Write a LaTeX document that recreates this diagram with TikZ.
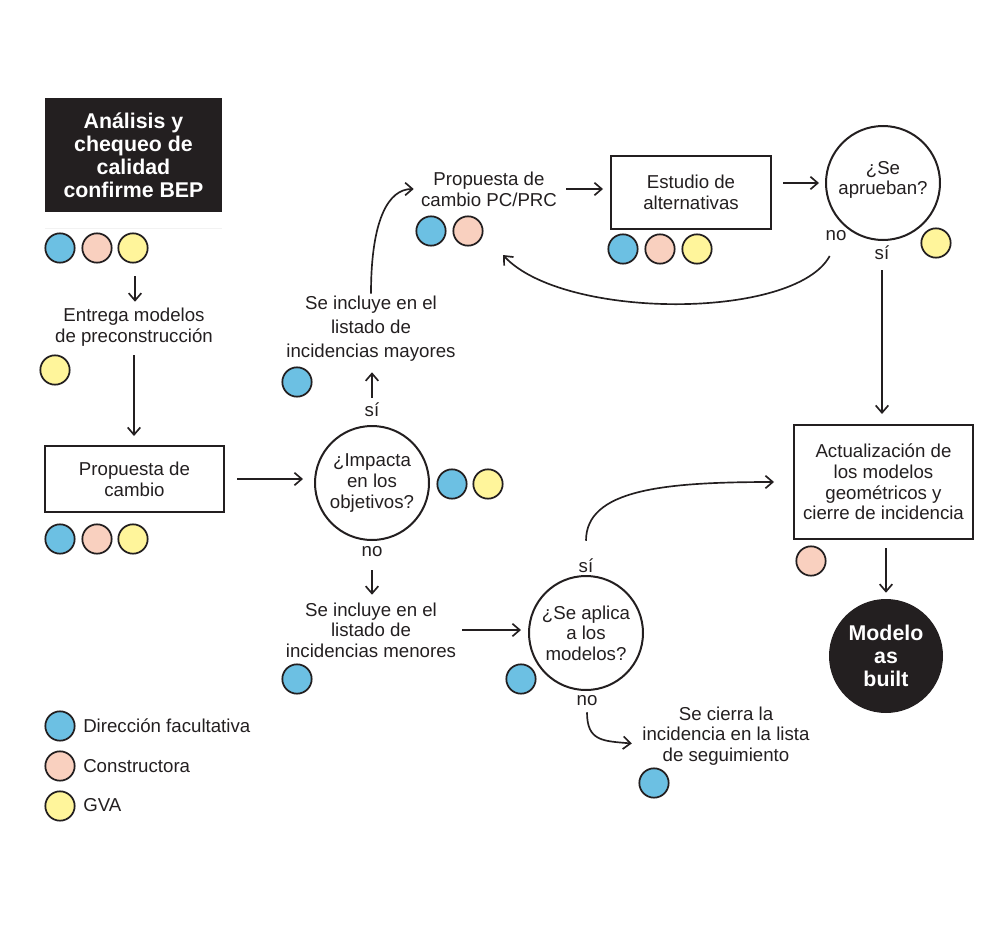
\documentclass[tikz,border=0pt]{standalone}
\usepackage{fontspec}
\setmainfont{Liberation Sans}
\usetikzlibrary{arrows.meta}
\definecolor{ink}{HTML}{231F20}
\definecolor{cblue}{HTML}{6CC0E3}
\definecolor{cpink}{HTML}{F9D0BF}
\definecolor{cyel}{HTML}{FFF59B}
\begin{document}
\begin{tikzpicture}[x=0.75pt,y=-0.75pt,
 txt/.style={align=center,inner sep=0pt,font=\fontsize{14}{15.5}\selectfont,text=ink},
 boxn/.style={txt,draw=ink,line width=1.5pt},
 decn/.style={txt,draw=ink,line width=1.5pt,circle,minimum size=85.5pt},
 dot/.style={circle,draw=ink,line width=1.3pt,minimum size=22pt,inner sep=0pt},
 arr/.style={draw=ink,line width=1.25pt,-{Straight Barb[length=5.5pt,width=9.5pt]}},
 darkbox/.style={fill=ink,text=white,font=\fontsize{16}{17.25}\selectfont\bfseries,align=center,inner sep=0pt},
 lbl/.style={txt,minimum height=12pt}
]
\useasboundingbox (0,0) rectangle (1000,935);

% top-left
\node[darkbox,minimum width=132.75pt,minimum height=85.5pt] (bep) at (133.5,155) {Análisis y\\chequeo de\\calidad\\confirme BEP};
\draw[gray!10,line width=0.75pt] (45,228) -- (222,228);
\node[dot,fill=cblue] (b1) at (60,248) {};
\node[dot,fill=cpink] (p1) at (97,248) {};
\node[dot,fill=cyel] (y1) at (133,248) {};
\coordinate (a1) at (135,276);
\node[txt,minimum height=33pt] (entrega) at (134,327) {Entrega modelos\\de preconstrucción};
\draw[arr,shorten >=2.25pt] (a1) -- (a1 |- entrega.north);
\node[dot,fill=cyel] (y2) at (55,370) {};

\node[boxn,minimum width=134.25pt,minimum height=49.5pt] (prop) at (134.5,479) {Propuesta de\\cambio};
\draw[arr,shorten <=4.5pt,shorten >=6.75pt] (entrega.south) -- (entrega.south |- prop.north);
\node[dot,fill=cblue] (b2) at (60,539) {};
\node[dot,fill=cpink] (p2) at (97,539) {};
\node[dot,fill=cyel] (y3) at (133,539) {};

% impacta
\node[decn] (imp) at (372,483) {¿Impacta\\en los\\objetivos?};
\draw[arr,shorten <=9pt,shorten >=8.25pt] (prop.east) -- (prop.east -| imp.west);
\node[dot,fill=cblue] (b3) at (452,484) {};
\node[dot,fill=cyel] (y4) at (488,484) {};

\node[lbl] (si1) at (372,410) {sí};
\node[txt,minimum height=52.5pt,font=\fontsize{14}{18}\selectfont] (mayores) at (371,329) {Se incluye en el\\listado de\\incidencias mayores};
\draw[arr,shorten <=3pt,shorten >=6pt] (si1.north) -- (si1.north |- mayores.south);
\node[dot,fill=cblue] (b4) at (297,382) {};

% propuesta PC/PRC
\node[txt,minimum width=112.5pt,minimum height=33pt] (pc) at (489,189) {Propuesta de\\cambio PC/PRC};
\draw[arr] (mayores.north) .. controls +(0,-75) and +(-25,0) .. (pc.west);
\node[dot,fill=cblue] (b5) at (431,231) {};
\node[dot,fill=cpink] (p3) at (468,231) {};

\node[boxn,minimum width=120pt,minimum height=54.75pt] (est) at (691,192.5) {Estudio de\\alternativas};
\draw[arr,shorten <=1.5pt,shorten >=5.25pt] (pc.east) -- (pc.east -| est.west);
\node[dot,fill=cblue] (b6) at (623,249) {};
\node[dot,fill=cpink] (p4) at (660,249) {};
\node[dot,fill=cyel] (y5) at (697,249) {};

\node[decn] (apr) at (883,183) {¿Se\\aprueban?\\[-8pt]\mbox{}};
\draw[arr,shorten <=8.25pt,shorten >=4.5pt] (apr.west -| est.east) -- (apr.west);
\node[lbl] (no2) at (836,236) {no};
\node[lbl] (si2) at (882,253) {sí};
\node[dot,fill=cyel] (y6) at (936,243) {};
\coordinate (pcret) at (503,255);
\draw[arr,shorten <=10pt] (no2.south) .. controls +(-41,76) and +(60,65) .. (pcret);

% actualizacion
\node[boxn,minimum width=134.25pt,minimum height=85.5pt] (act) at (883.5,482) {Actualización de\\los modelos\\geométricos y\\cierre de incidencia};
\draw[arr,shorten <=6.75pt,shorten >=7.5pt] (si2.south) -- (si2.south |- act.north);
\node[dot,fill=cpink] (p5) at (811,561) {};
\node[circle,fill=ink,minimum size=85.5pt,inner sep=0pt,text=white,align=center,font=\fontsize{16}{17}\selectfont\bfseries] (built) at (886,656) {Modelo\\as\\built};
\draw[arr,shorten <=6pt,shorten >=4.5pt] (built.north |- act.south) -- (built.north);

% menores
\node[lbl] (no1) at (372,552) {no};
\node[txt,minimum width=136.5pt,minimum height=48pt] (menores) at (371,630) {Se incluye en el\\listado de\\incidencias menores};
\draw[arr,shorten <=7.5pt,shorten >=2.25pt] (no1.south) -- (no1.south |- menores.north);
\node[dot,fill=cblue] (b7) at (297,679) {};

\node[decn] (apl) at (586,633) {¿Se aplica\\a los\\modelos?};
\draw[arr,shorten >=5.25pt] (menores.east) -- (menores.east -| apl.west);
\node[dot,fill=cblue] (b8) at (521,679) {};
\node[lbl] (si3) at (586,566) {sí};
\draw[arr,shorten <=12.75pt,shorten >=14.25pt] (si3.north) .. controls +(0,-68) and +(-130,0) .. (act.west);
\node[lbl] (no3) at (587,701) {no};
\node[txt,minimum width=132pt,minimum height=46.5pt] (cierra) at (726,736) {Se cierra la\\incidencia en la lista\\de seguimiento};
\draw[arr,shorten <=2.25pt,shorten >=4.5pt] (no3.south) .. controls +(0,32) and +(-35,-3) .. ([yshift=-6pt]cierra.west);
\node[dot,fill=cblue] (b9) at (654,783) {};

% legend
\node[dot,fill=cblue] (l1) at (60,726) {};
\node[dot,fill=cpink] (l2) at (60,766) {};
\node[dot,fill=cyel] (l3) at (60,806) {};
\node[txt,anchor=west] (lt1) at (83,726) {Dirección facultativa};
\node[txt,anchor=west] (lt2) at (83,766) {Constructora};
\node[txt,anchor=west] (lt3) at (83,805) {GVA};
\end{tikzpicture}
\end{document}
